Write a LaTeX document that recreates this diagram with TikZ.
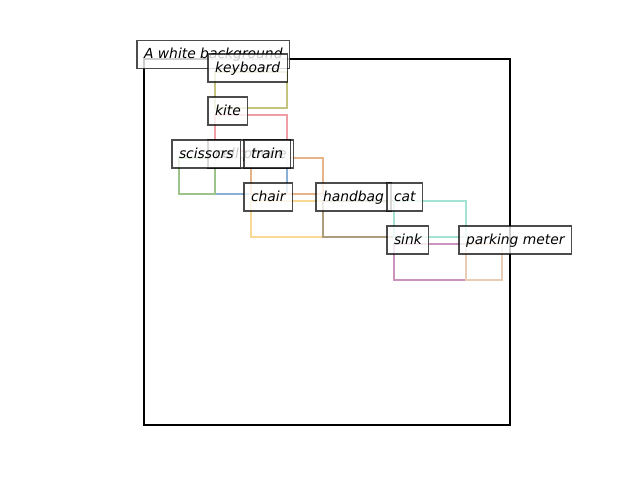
\documentclass[tikz,border=0pt]{standalone}
\usepackage{fontspec}
\setmainfont{DejaVu Sans}
\definecolor{cOlive}{HTML}{C4C47C}
\definecolor{cRed}{HTML}{EE9EA4}
\definecolor{cBlue}{HTML}{8AB0D8}
\definecolor{cGreen}{HTML}{9CC48A}
\definecolor{cOrange}{HTML}{E6B488}
\definecolor{cYellow}{HTML}{F8D894}
\definecolor{cBrown}{HTML}{AD9C7C}
\definecolor{cTeal}{HTML}{A4E2D4}
\definecolor{cPurple}{HTML}{CC94BC}
\definecolor{cBeige}{HTML}{E8CCB4}
\tikzset{
  lbl/.style={anchor=base west, fill=white, fill opacity=0.8, text opacity=1,
    draw=black, draw opacity=0.7, line width=0.8pt, outer sep=0pt,
    inner xsep=5.25pt, inner ysep=5.25pt, text height=8.25pt, text depth=2.25pt,
    font=\fontsize{10.4}{12}\selectfont\itshape},
  bx/.style={line width=2.2pt},
  frame/.style={line width=2.2pt, draw=black}
}
\begin{document}
\begin{tikzpicture}[x=0.75pt, y=-0.75pt]
\useasboundingbox (0,0) rectangle (640,480);
% frame (A white background)
\draw[frame] (144,59) rectangle (510,425);
% boxes
\draw[bx, cOlive]  (215,72) rectangle (287,108);
\draw[bx, cRed]    (215,115) rectangle (287,151);
\draw[bx, cBlue]   (215,158) rectangle (287,194);
\draw[bx, cGreen]  (179,158) rectangle (215,194);
\draw[bx, cOrange] (251,158) rectangle (323,194);
\draw[bx, cYellow] (251,201) rectangle (323,237);
\draw[bx, cBrown]  (323,201) rectangle (394,237);
\draw[bx, cTeal]   (394,201) rectangle (466,237);
\draw[bx, cPurple] (394,244) rectangle (466,280);
\draw[bx, cBeige]  (466,244) rectangle (502,280);
% labels
\node[lbl] (bg) at (137,58.5) {A white background};
\node[lbl] (keyboard) at (208,72) {keyboard};
\node[lbl] (kite) at (208,115) {kite};
\node[lbl] (cellphone) at (208,158) {cell phone};
\node[lbl] (scissors) at (172,158) {scissors};
\node[lbl] (train) at (244,158) {train};
\node[lbl] (chair) at (244,201) {chair};
\node[lbl] (handbag) at (316,201) {handbag};
\node[lbl] (cat) at (387,201) {cat};
\node[lbl] (sink) at (387,244) {sink};
\node[lbl] (pmeter) at (459,244) {parking meter};
\end{tikzpicture}
\end{document}
